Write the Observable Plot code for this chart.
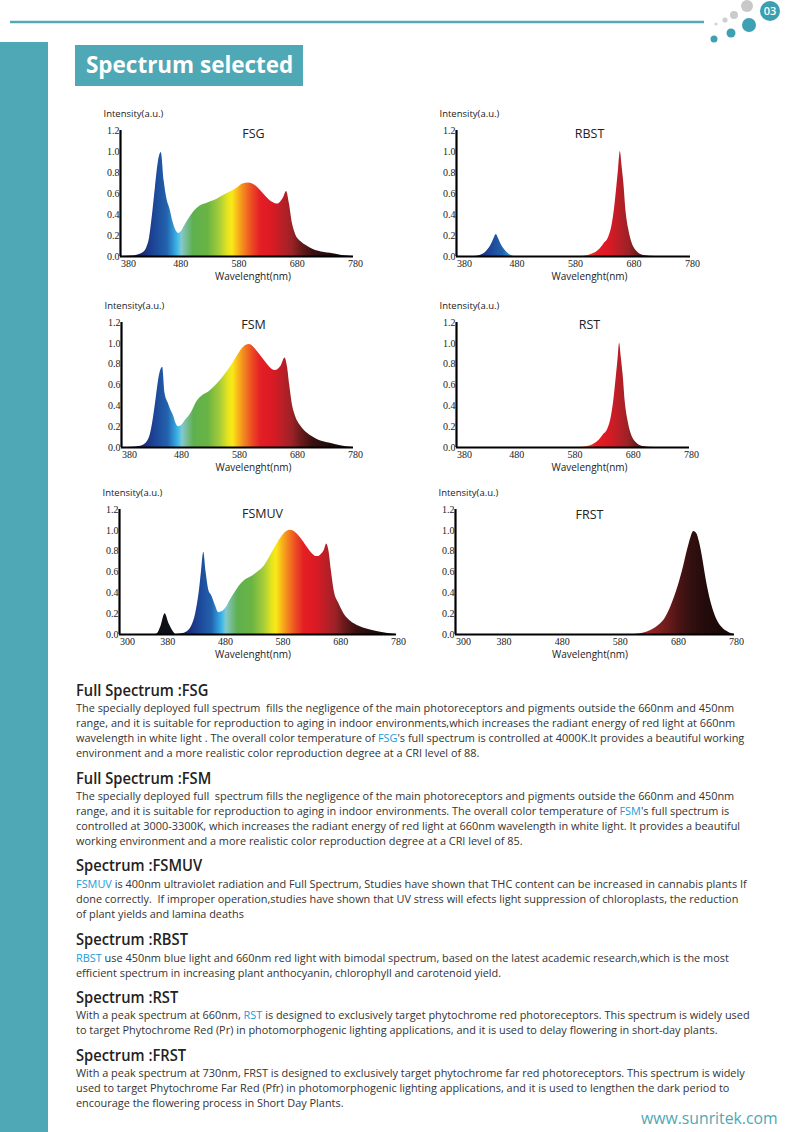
<!DOCTYPE html>
<html><head><meta charset="utf-8">
<script src="https://cdn.jsdelivr.net/npm/d3@7"></script>
<script src="https://cdn.jsdelivr.net/npm/@observablehq/plot@0.6"></script>
<style>
html,body{margin:0;padding:0;background:#fff;}
#page{position:relative;width:800px;height:1132px;overflow:hidden;font-family:"Open Sans",sans-serif;background:#fff;}
.chart{position:absolute;}
.chart svg{overflow:visible;}
.h{position:absolute;left:76px;font-weight:600;font-size:15.5px;line-height:16px;color:#222;white-space:pre;width:max-content;transform-origin:0 0;}
.p{position:absolute;left:76px;font-size:11px;line-height:15px;color:#333;}
.p .l{white-space:pre;width:max-content;transform-origin:0 0;}
.hl{color:#1c9ad6;}
</style></head><body>
<div id="page">
  <svg style="position:absolute;left:0;top:0" width="800" height="50">
    <line x1="10" y1="22" x2="704" y2="22" stroke="#56aab8" stroke-width="2.5"/>
    <circle cx="716" cy="24" r="1.6" fill="#d2d2d2"/>
    <circle cx="725" cy="20" r="2.6" fill="#cfcfcf"/>
    <circle cx="734" cy="15" r="4" fill="#cbcbcb"/>
    <circle cx="747" cy="6" r="6" fill="#c8c8c8"/>
    <circle cx="749" cy="25" r="7" fill="#3ea1b3"/>
    <circle cx="731" cy="33" r="4.5" fill="#3ea1b3"/>
    <circle cx="714" cy="39" r="3.5" fill="#3ea1b3"/>
    <circle cx="770" cy="11" r="10" fill="#3a9fb1"/>
    <text x="770" y="15" text-anchor="middle" fill="#fff" font-family="Open Sans" font-size="11" font-weight="600">03</text>
  </svg>
  <div style="position:absolute;left:0;top:42px;width:48px;height:1090px;background:#4ea8b5"></div>
  <div style="position:absolute;left:75px;top:45px;width:228px;height:41px;background:#4ea8b5"></div>
  <div id="title" style="position:absolute;left:86px;top:48px;font-size:23px;line-height:32px;font-weight:700;color:#fff;white-space:pre;width:max-content;transform-origin:0 0;">Spectrum selected</div>

  <div class="h" style="top:682px">Full Spectrum :FSG</div>
  <div class="p" style="top:699.5px">
    <div class="l">The specially deployed full spectrum  fills the negligence of the main photoreceptors and pigments outside the 660nm and 450nm</div>
    <div class="l">range, and it is suitable for reproduction to aging in indoor environments,which increases the radiant energy of red light at 660nm</div>
    <div class="l" id="refline">wavelength in white light . The overall color temperature of <span class="hl">FSG</span>'s full spectrum is controlled at 4000K.It provides a beautiful working</div>
    <div class="l">environment and a more realistic color reproduction degree at a CRI level of 88.</div>
  </div>

  <div class="h" style="top:770px">Full Spectrum :FSM</div>
  <div class="p" style="top:787.5px">
    <div class="l">The specially deployed full  spectrum fills the negligence of the main photoreceptors and pigments outside the 660nm and 450nm</div>
    <div class="l">range, and it is suitable for reproduction to aging in indoor environments. The overall color temperature of <span class="hl">FSM</span>'s full spectrum is</div>
    <div class="l">controlled at 3000-3300K, which increases the radiant energy of red light at 660nm wavelength in white light. It provides a beautiful</div>
    <div class="l">working environment and a more realistic color reproduction degree at a CRI level of 85.</div>
  </div>

  <div class="h" style="top:857px">Spectrum :FSMUV</div>
  <div class="p" style="top:875.5px">
    <div class="l"><span class="hl">FSMUV</span> is 400nm ultraviolet radiation and Full Spectrum, Studies have shown that THC content can be increased in cannabis plants If</div>
    <div class="l">done correctly.  If improper operation,studies have shown that UV stress will efects light suppression of chloroplasts, the reduction</div>
    <div class="l">of plant yields and lamina deaths</div>
  </div>

  <div class="h" style="top:931px">Spectrum :RBST</div>
  <div class="p" style="top:949.5px">
    <div class="l"><span class="hl">RBST</span> use 450nm blue light and 660nm red light with bimodal spectrum, based on the latest academic research,which is the most</div>
    <div class="l">efficient spectrum in increasing plant anthocyanin, chlorophyll and carotenoid yield.</div>
  </div>

  <div class="h" style="top:989px">Spectrum :RST</div>
  <div class="p" style="top:1007px">
    <div class="l">With a peak spectrum at 660nm, <span class="hl">RST</span> is designed to exclusively target phytochrome red photoreceptors. This spectrum is widely used</div>
    <div class="l">to target Phytochrome Red (Pr) in photomorphogenic lighting applications, and it is used to delay flowering in short-day plants.</div>
  </div>

  <div class="h" style="top:1047px">Spectrum :FRST</div>
  <div class="p" style="top:1064.5px">
    <div class="l">With a peak spectrum at 730nm, FRST is designed to exclusively target phytochrome far red photoreceptors. This spectrum is widely</div>
    <div class="l">used to target Phytochrome Far Red (Pfr) in photomorphogenic lighting applications, and it is used to lengthen the dark period to</div>
    <div class="l">encourage the flowering process in Short Day Plants.</div>
  </div>

  <div id="web" style="position:absolute;left:641px;top:1106px;font-size:16px;line-height:24px;color:#4ea8b5;white-space:pre;width:max-content;transform-origin:0 0;">www.sunritek.com</div>
</div>
<script>
// ---------- data ----------
const yTicks = [0, 0.2, 0.4, 0.6, 0.8, 1.0, 1.2];
const ticks380 = [380, 480, 580, 680, 780];
const ticks300 = [300, 380, 480, 580, 680, 780];

const fsgWl = [380,400,410,420,425,430,435,440,445,450,455,460,465,470,475,480,485,490,500,510,520,530,540,550,560,570,580,590,600,610,620,630,640,650,655,660,665,670,675,680,690,700,710,720,740,760,780];
const fsgI  = [0,0.005,0.015,0.04,0.08,0.18,0.4,0.66,0.9,0.99,0.72,0.54,0.45,0.33,0.25,0.22,0.24,0.29,0.38,0.45,0.49,0.51,0.53,0.56,0.59,0.62,0.65,0.69,0.70,0.68,0.63,0.57,0.52,0.5,0.52,0.56,0.62,0.5,0.32,0.22,0.14,0.1,0.07,0.05,0.03,0.01,0];

const fsmWl = [380,400,410,420,425,430,435,440,445,451,455,461,465,470,474,478,483,490,500,510,520,530,540,550,560,570,580,590,600,605,610,620,630,640,645,650,655,662,666,670,675,680,690,700,710,720,740,760,780];
const fsmI  = [0,0.003,0.01,0.03,0.06,0.13,0.28,0.48,0.68,0.77,0.52,0.42,0.36,0.3,0.23,0.2,0.21,0.26,0.33,0.44,0.5,0.53,0.58,0.64,0.71,0.79,0.88,0.96,0.99,0.98,0.95,0.88,0.81,0.75,0.74,0.75,0.78,0.86,0.78,0.6,0.4,0.3,0.2,0.14,0.1,0.07,0.04,0.015,0];

const fsmuvWl = [300,360,365,372,379,386,393,398,405,415,425,432,438,442,446,450,455,460,466,472,478,485,492,500,510,520,530,540,550,560,570,580,590,596,605,615,625,635,640,645,650,655,659,663,667,672,680,690,700,715,730,750,780];
const fsmuvI  = [0,0,0.005,0.08,0.2,0.1,0.03,0,0.005,0.02,0.08,0.2,0.4,0.6,0.79,0.6,0.42,0.37,0.28,0.21,0.22,0.26,0.33,0.4,0.48,0.53,0.56,0.6,0.65,0.74,0.84,0.93,0.99,1.0,0.98,0.92,0.84,0.77,0.75,0.75,0.77,0.81,0.87,0.8,0.62,0.42,0.3,0.19,0.13,0.08,0.05,0.025,0];

const rbstWl = [380,410,420,430,436,440,444,448,452,456,460,466,472,480,500,590,605,615,625,632,640,646,650,654,657,660,663,666,670,674,680,688,700,720,780];
const rbstI  = [0,0,0.01,0.04,0.08,0.12,0.17,0.21,0.17,0.12,0.08,0.04,0.015,0,0,0,0.01,0.03,0.07,0.12,0.18,0.3,0.45,0.66,0.83,1.0,0.86,0.7,0.42,0.27,0.13,0.05,0.01,0,0];

const rstWl = [380,590,605,615,625,632,640,646,650,654,657,660,663,666,670,674,680,688,700,720,780];
const rstI  = [0,0,0.01,0.03,0.07,0.12,0.18,0.3,0.45,0.66,0.83,1.0,0.86,0.7,0.42,0.27,0.13,0.05,0.01,0,0];

const frstWl = [300,600,615,630,640,650,660,670,680,690,700,705,710,715,720,725,730,735,740,745,750,760,770,780];
const frstI  = [0,0,0.005,0.025,0.05,0.09,0.15,0.26,0.41,0.6,0.83,0.93,0.99,0.97,0.88,0.74,0.57,0.42,0.3,0.21,0.14,0.06,0.02,0];

// ---------- colour stops (styles) ----------
const spectrumStops = [[300,"#0b0b0e"],[395,"#101018"],[410,"#1a1f5a"],[430,"#1d3a8c"],[445,"#1e4f9f"],[460,"#2262ad"],[470,"#2f8fd0"],[478,"#3bb7ea"],[485,"#83c9d0"],[495,"#74bb8c"],[505,"#5eb04f"],[530,"#6ab444"],[550,"#a4cc3a"],[565,"#e8e41f"],[572,"#f8ea17"],[580,"#f9bf1a"],[592,"#f3861f"],[605,"#ec4f23"],[620,"#e41f25"],[640,"#dc1a24"],[660,"#b81f27"],[675,"#9a2226"],[690,"#6b1a1b"],[710,"#3b1010"],[740,"#210c0c"],[780,"#150808"]];
const farRedStops = [[600,"#a3282a"],[640,"#8e2323"],[665,"#6e1c1c"],[685,"#4c1414"],[705,"#331010"],[730,"#240b0b"],[780,"#180707"]];

const charts = [
  {el:"fsg",   title:"FSG",   wl:fsgWl,   val:fsgI,   domain:[380,780], ticks:ticks380, stops:spectrumStops, left:90,  top:105, width:288, height:176, titleDx:16.5, titleDy:3, labelDx:16},
  {el:"rbst",  title:"RBST",  wl:rbstWl,  val:rbstI,  domain:[380,780], ticks:ticks380, stops:spectrumStops, left:426, top:105, width:289, height:176, titleDx:16,   titleDy:3, labelDx:16},
  {el:"fsm",   title:"FSM",   wl:fsmWl,   val:fsmI,   domain:[380,780], ticks:ticks380, stops:spectrumStops, left:91,  top:297, width:287, height:175, titleDx:16,   titleDy:2, labelDx:16},
  {el:"rst",   title:"RST",   wl:rstWl,   val:rstI,   domain:[380,780], ticks:ticks380, stops:spectrumStops, left:426, top:297, width:288, height:175, titleDx:16.5, titleDy:2, labelDx:16.5},
  {el:"fsmuv", title:"FSMUV", wl:fsmuvWl, val:fsmuvI, domain:[300,780], ticks:ticks300, stops:spectrumStops, left:89,  top:484, width:332, height:175, titleDx:4.5,  titleDy:4, labelDx:-5},
  {el:"frst",  title:"FRST",  wl:frstWl,  val:frstI,  domain:[300,780], ticks:ticks300, stops:farRedStops,   left:425, top:484, width:334, height:175, titleDx:-5.5, titleDy:5, labelDx:-5}
];

const page = document.getElementById("page");
const defsSvg = d3.select(page).append("svg").attr("width",0).attr("height",0)
  .style("position","absolute").style("left","0").style("top","0");
const defs = defsSvg.append("defs");
function addGradient(id, stops, domain) {
  const [a, b] = domain;
  const g = defs.append("linearGradient").attr("id", id).attr("x1",0).attr("y1",0).attr("x2",1).attr("y2",0);
  for (const [w, c] of stops) g.append("stop").attr("offset", Math.max(0, Math.min(1, (w - a) / (b - a)))).attr("stop-color", c);
}

for (const c of charts) {
  const gid = "grad-" + c.el;
  addGradient(gid, c.stops, c.domain);
  const data = c.wl.map((w, i) => ({w, v: c.val[i]}));
  const tickText = {text: d => String(d), frameAnchor: "bottom", lineAnchor: "top", dy: 3, fontFamily: "Liberation Serif", fontSize: 10, fill: "#222"};
  const svg = Plot.plot({
    width: c.width, height: c.height,
    marginLeft: 30, marginRight: 25, marginTop: 25, marginBottom: 25,
    style: {background: "transparent", fontFamily: "Liberation Serif", fontSize: "10px", color: "#222", overflow: "visible"},
    x: {domain: c.domain, axis: null},
    y: {domain: [0, 1.2], ticks: yTicks, tickFormat: d3.format(".1f"), tickSize: 0, tickPadding: 1, label: null},
    marks: [
      Plot.areaY(data, {x: "w", y: "v", fill: `url(#${gid})`, curve: "monotone-x"}),
      Plot.ruleY([0], {stroke: "#000", strokeWidth: 2}),
      Plot.ruleX([c.domain[0]], {stroke: "#000", strokeWidth: 2.2}),
      Plot.text(c.ticks.slice(0, 1), {...tickText, x: d => d, dx: 8}),
      Plot.text(c.ticks.slice(1), {...tickText, x: d => d, dx: 2}),
      Plot.text([c.title], {text: d => d, frameAnchor: "top", lineAnchor: "middle", dx: c.titleDx, dy: c.titleDy, fontFamily: "Open Sans", fontSize: 12.5, fill: "#222"}),
      Plot.text(["Intensity(a.u.)"], {text: d => d, frameAnchor: "top-left", lineAnchor: "middle", dx: -17, dy: -17, textAnchor: "start", fontFamily: "Open Sans", fontSize: 9.5, fill: "#222"}),
      Plot.text(["Wavelenght(nm)"], {text: d => d, frameAnchor: "bottom", lineAnchor: "middle", dx: c.labelDx, dy: 20, fontFamily: "Open Sans", fontSize: 10, fill: "#222"})
    ]
  });
  const div = document.createElement("div");
  div.className = "chart";
  div.style.left = c.left + "px";
  div.style.top = c.top + "px";
  div.style.width = c.width + "px";
  div.style.height = c.height + "px";
  div.appendChild(svg);
  page.appendChild(div);
}

// condense text to match the reference's narrow typeface
function fitTo(el, target) { const w = el.offsetWidth; return w ? target / w : 1; }
const sBody = fitTo(document.getElementById("refline"), 668);
document.querySelectorAll(".p .l").forEach(e => e.style.transform = `scaleX(${sBody})`);
const sHead = fitTo(document.querySelector(".h"), 132);
document.querySelectorAll(".h").forEach(e => e.style.transform = `scaleX(${sHead})`);
const t = document.getElementById("title");
t.style.transform = `scaleX(${fitTo(t, 207)})`;
const web = document.getElementById("web");
web.style.transform = `scaleX(${fitTo(web, 137)})`;
</script>
</body></html>
